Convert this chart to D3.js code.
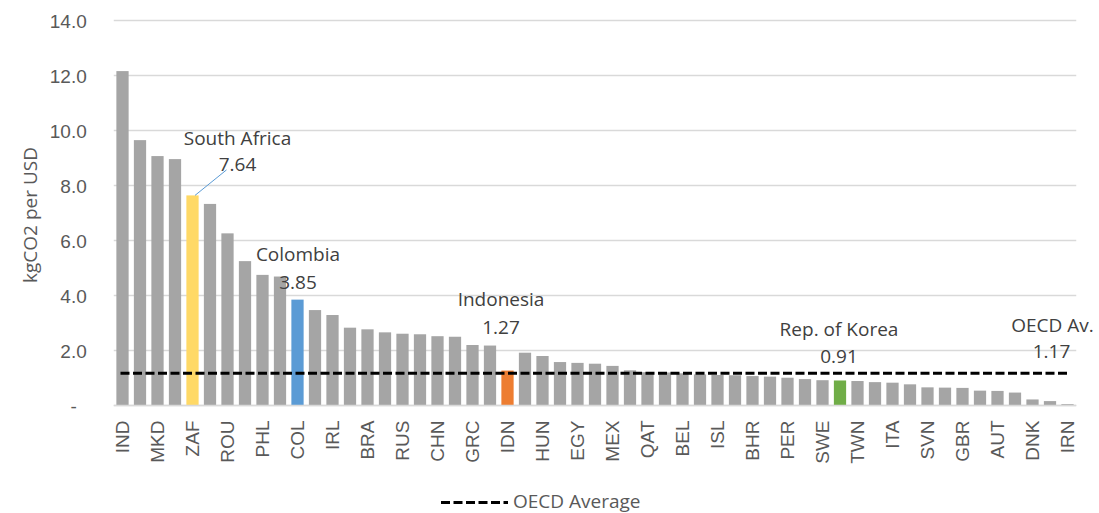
<!DOCTYPE html>
<html>
<head>
<meta charset="utf-8">
<script src="https://cdn.jsdelivr.net/npm/d3@7"></script>
<style>
  html, body { margin: 0; padding: 0; background: #fff; }
  svg { display: block; font-family: "Open Sans", sans-serif; }
</style>
</head>
<body>
<svg id="chart" width="1099" height="513"></svg>
<script>
// Country codes, in descending order of carbon intensity
const countries = [
  "IND","KAZ","MKD","SRB","ZAF","BIH","ROU","MYS","PHL","VNM",
  "COL","POL","IRL","CZE","BRA","BGR","RUS","TUR","CHN","THA",
  "GRC","EST","IDN","UKR","HUN","CHL","EGY","ISR","MEX","ARG",
  "QAT","DEU","BEL","NLD","ISL","JPN","BHR","USA","PER","PRT",
  "SWE","KOR","TWN","ESP","ITA","FIN","SVN","NOR","GBR","FRA",
  "AUT","CHE","DNK","LUX","IRN"
];
// kgCO2 per USD
const values = [
  12.16, 9.65, 9.07, 8.96, 7.64, 7.33, 6.26, 5.25, 4.75, 4.69,
  3.85, 3.47, 3.29, 2.83, 2.77, 2.66, 2.61, 2.59, 2.52, 2.50,
  2.20, 2.18, 1.27, 1.92, 1.80, 1.58, 1.55, 1.52, 1.44, 1.28,
  1.21, 1.20, 1.17, 1.13, 1.11, 1.10, 1.07, 1.05, 1.01, 0.96,
  0.92, 0.91, 0.89, 0.85, 0.83, 0.77, 0.66, 0.65, 0.64, 0.54,
  0.53, 0.47, 0.22, 0.16, 0.05
];
const oecdAverage = 1.17;
const yTicks = [0, 2, 4, 6, 8, 10, 12, 14];

// Highlighted countries and their callout names
const highlightCodes = ["ZAF", "COL", "IDN", "KOR"];
const highlightNames = ["South Africa", "Colombia", "Indonesia", "Rep. of Korea"];
const highlightColors = ["#FFD966", "#5B9BD5", "#ED7D31", "#70AD47"];

// Callout placement relative to the bar top (dx, name dy, value dy)
const calloutLayout = {
  ZAF: { dx: 45, nameDy: -50, valueDy: -24, leader: true },
  COL: { dx: 0.5, nameDy: -38.5, valueDy: -10.3 },
  IDN: { dx: -6.5, nameDy: -64.8, valueDy: -36.5 },
  KOR: { dx: -1, nameDy: -44.4, valueDy: -17.1 }
};

const svg = d3.select("#chart");
const margin = { left: 113.75, right: 22.75, top: 20.5, bottom: 107.5 };
const W = 1099, H = 513;
const fontSize = "19px";

const x = d3.scaleBand()
  .domain(countries)
  .range([margin.left, W - margin.right])
  .paddingInner(0.3)
  .paddingOuter(0.15);

const y = d3.scaleLinear()
  .domain([0, 14])
  .range([H - margin.bottom, margin.top]);

// Gridlines
svg.append("g")
  .selectAll("line")
  .data(yTicks)
  .join("line")
  .attr("x1", margin.left)
  .attr("x2", W - margin.right)
  .attr("y1", d => y(d))
  .attr("y2", d => y(d))
  .attr("stroke", "#D9D9D9")
  .attr("stroke-width", 1.3);

// Y axis labels
const yAxis = svg.append("g")
  .attr("transform", `translate(${margin.left - 27},0)`)
  .call(d3.axisLeft(y).tickValues(yTicks).tickSize(0).tickPadding(0)
    .tickFormat(d => d === 0 ? "-" : d3.format(".1f")(d)));
yAxis.select(".domain").remove();
yAxis.selectAll("text")
  .attr("fill", "#595959")
  .style("font-size", fontSize)
  .attr("dy", "0.36em")
  .attr("dx", d => d === 0 ? -10 : 0);

// Axis title
svg.append("text")
  .attr("transform", `translate(37,${(y(0) + y(14)) / 2 + 2}) rotate(-90)`)
  .attr("text-anchor", "middle")
  .attr("fill", "#595959")
  .style("font-size", fontSize)
  .text("kgCO2 per USD");

const colorOf = code => {
  const i = highlightCodes.indexOf(code);
  return i >= 0 ? highlightColors[i] : "#A5A5A5";
};

// Bars
svg.append("g")
  .selectAll("rect")
  .data(countries.map((c, i) => ({ code: c, value: values[i] })))
  .join("rect")
  .attr("x", d => x(d.code))
  .attr("width", x.bandwidth())
  .attr("y", d => y(d.value))
  .attr("height", d => y(0) - y(d.value))
  .attr("fill", d => colorOf(d.code));

// Baseline
svg.append("line")
  .attr("x1", margin.left).attr("x2", W - margin.right)
  .attr("y1", y(0)).attr("y2", y(0))
  .attr("stroke", "#D9D9D9").attr("stroke-width", 1.5);

// X axis labels (every other country)
const xAxis = svg.append("g")
  .attr("transform", `translate(0,${y(0)})`)
  .call(d3.axisBottom(x).tickSize(0).tickPadding(0)
    .tickValues(countries.filter((c, i) => i % 2 === 0)));
xAxis.select(".domain").remove();
xAxis.selectAll("text")
  .attr("fill", "#595959")
  .style("font-size", fontSize)
  .attr("text-anchor", "end")
  .attr("transform", "rotate(-90)")
  .attr("x", -15)
  .attr("y", 0)
  .attr("dy", "0.36em");

// OECD average line
svg.append("line")
  .attr("x1", x(countries[0]) + x.bandwidth() / 2 - 2)
  .attr("x2", x(countries[countries.length - 1]) + x.bandwidth() / 2)
  .attr("y1", y(oecdAverage)).attr("y2", y(oecdAverage))
  .attr("stroke", "#000").attr("stroke-width", 3)
  .attr("stroke-dasharray", "9,3.5");

// Callouts
const fmt = d3.format(".2f");
highlightCodes.forEach((code, k) => {
  const i = countries.indexOf(code);
  const v = values[i];
  const L = calloutLayout[code];
  const cx = x(code) + x.bandwidth() / 2;
  const top = y(v);
  const tx = cx + L.dx;
  if (L.leader) {
    svg.append("line")
      .attr("x1", cx + 2.5).attr("y1", top)
      .attr("x2", tx - 11).attr("y2", top + L.valueDy - 1.5)
      .attr("stroke", "#5B9BD5").attr("stroke-width", 1);
  }
  svg.append("text")
    .attr("x", tx).attr("y", top + L.nameDy)
    .attr("text-anchor", "middle").attr("fill", "#404040")
    .style("font-size", fontSize)
    .text(highlightNames[k]);
  svg.append("text")
    .attr("x", tx).attr("y", top + L.valueDy)
    .attr("text-anchor", "middle").attr("fill", "#404040")
    .style("font-size", fontSize)
    .text(fmt(v));
});

// OECD average callout
{
  const endX = x(countries[countries.length - 1]) + x.bandwidth() / 2;
  const ay = y(oecdAverage);
  svg.append("text")
    .attr("x", endX - 15).attr("y", ay - 41.6)
    .attr("text-anchor", "middle").attr("fill", "#404040")
    .style("font-size", fontSize)
    .text("OECD Av.");
  svg.append("text")
    .attr("x", endX - 16).attr("y", ay - 15)
    .attr("text-anchor", "middle").attr("fill", "#404040")
    .style("font-size", fontSize)
    .text(fmt(oecdAverage));
}

// Legend
const legend = svg.append("g");
legend.append("line")
  .attr("x1", 441).attr("x2", 508)
  .attr("y1", 502.5).attr("y2", 502.5)
  .attr("stroke", "#000").attr("stroke-width", 3)
  .attr("stroke-dasharray", "9,3.5");
legend.append("text")
  .attr("x", 513).attr("y", 508)
  .attr("fill", "#595959")
  .style("font-size", fontSize)
  .text("OECD Average");
</script>
</body>
</html>
